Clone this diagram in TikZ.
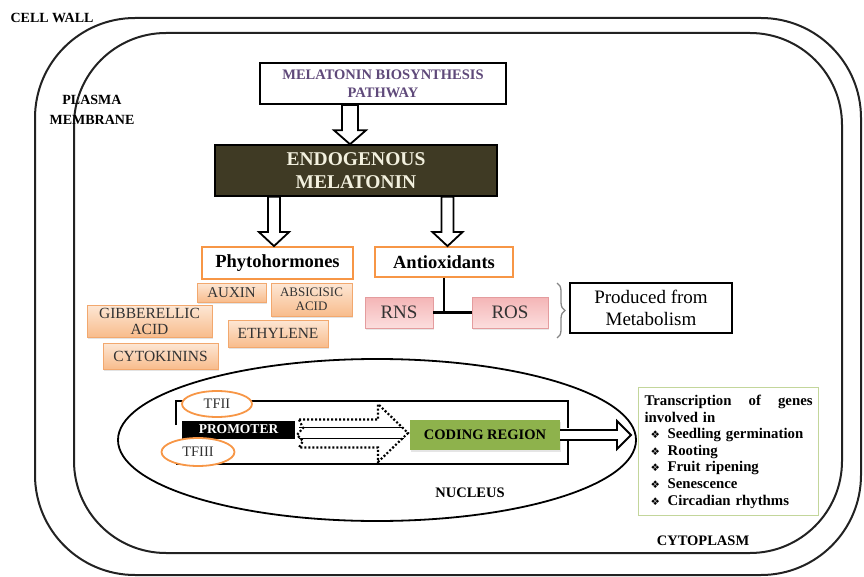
\documentclass[tikz,border=0pt]{standalone}
\usepackage{fontspec}
\setmainfont{Liberation Serif}
\newfontfamily\dejavu{DejaVu Sans}
\usetikzlibrary{calc,shadows,shapes.geometric,decorations.pathreplacing}

\definecolor{wallgray}{HTML}{222222}
\definecolor{pathpurple}{HTML}{5F497A}
\definecolor{endofill}{HTML}{3F3A24}
\definecolor{endotext}{HTML}{F2F0DE}
\definecolor{hormorange}{HTML}{F79646}
\definecolor{subtop}{HTML}{FDE7D5}
\definecolor{subbot}{HTML}{F8BC8C}
\definecolor{subline}{HTML}{F2A86E}
\definecolor{pinktop}{HTML}{F4B5B6}
\definecolor{pinkbot}{HTML}{FCDEDE}
\definecolor{pinkline}{HTML}{E49C9E}
\definecolor{codegreen}{HTML}{8EB24C}
\definecolor{translime}{HTML}{C3D69B}
\definecolor{bracegray}{HTML}{858585}
\definecolor{subtext}{HTML}{333333}

\tikzset{
  membrane/.style={draw=wallgray, line width=2pt},
  hollow/.style={draw=black, line width=1.8pt, fill=white, line join=miter},
  plainbox/.style={draw=black, line width=1.8pt, fill=white, inner sep=0pt, align=center},
  headbox/.style={draw=hormorange, line width=1.8pt, fill=white, inner sep=0pt,
    font=\fontsize{18.5}{20}\selectfont\bfseries},
  hormbox/.style={draw=subline, line width=0.8pt, top color=subtop, bottom color=subbot,
    inner sep=0pt, align=center, text=subtext,
    drop shadow={shadow xshift=1.2pt, shadow yshift=-1.5pt, fill=black!22}},
  radbox/.style={draw=pinkline, line width=0.8pt, top color=pinktop, bottom color=pinkbot,
    inner sep=0pt, text=subtext, font=\fontsize{19}{20}\selectfont,
    drop shadow={shadow xshift=1.2pt, shadow yshift=-1.5pt, fill=black!18}},
  label/.style={font=\fontsize{14}{20}\selectfont\bfseries, text=black, inner sep=0pt, align=center},
  tfoval/.style={draw=hormorange, line width=1.8pt, fill=white, ellipse, inner sep=0pt,
    text=subtext, font=\fontsize{14.5}{16}\selectfont},
  dotline/.style={draw=black, line width=2.2pt, dash pattern=on 2pt off 2pt},
  link/.style={draw=black, line width=2.6pt}
}

\begin{document}
\begin{tikzpicture}[x=1pt, y=-1pt]
\useasboundingbox (0,0) rectangle (864,577);

% cell wall and plasma membrane
\draw[membrane, rounded corners=100pt] (35,18) rectangle (861,575);
\draw[membrane, rounded corners=92pt] (74,33) rectangle (842,553);

% nucleus
\node[draw=black, line width=1.8pt, ellipse, minimum width=518pt, minimum height=162pt, inner sep=0pt] (nucleus) at (377,440) {};

% compartment labels
\node[label] (cellwall) at (52,18) {CELL WALL};
\node[label, font=\fontsize{14}{20}\selectfont\bfseries] (plasma) at (92,110) {PLASMA\\MEMBRANE};
\node[label, font=\fontsize{14.5}{20}\selectfont\bfseries] (nuclabel) at (470,493) {NUCLEUS};
\node[label, font=\fontsize{14.5}{20}\selectfont\bfseries] (cytolabel) at (703,541) {CYTOPLASM};

% biosynthesis and endogenous melatonin
\node[plainbox, minimum width=246pt, minimum height=41pt, text=pathpurple,
      font=\fontsize{14.5}{18}\selectfont\bfseries] (mbp) at (383,83.5)
      {MELATONIN BIOSYNTHESIS\\PATHWAY};
\node[draw=black, line width=1.5pt, fill=endofill, text=endotext, inner sep=0pt, align=center,
      minimum width=282pt, minimum height=51pt,
      font=\fontsize{19.5}{23}\selectfont\bfseries] (endo) at (356,170.5)
      {ENDOGENOUS\\MELATONIN};

% phytohormones and antioxidants
\node[headbox, minimum width=151pt, minimum height=32pt] (phyto) at (277.5,263) {Phytohormones};
\node[headbox, minimum width=138pt, minimum height=30pt] (antiox) at (444,262) {Antioxidants};

\node[hormbox, minimum width=69pt, minimum height=19pt, font=\fontsize{15}{16}\selectfont] (auxin) at (231.5,292.5) {AUXIN};
\node[hormbox, minimum width=81pt, minimum height=33pt, font=\fontsize{13}{14.5}\selectfont] (aba) at (311.5,299.5) {ABSICISIC\\ACID};
\node[hormbox, minimum width=125pt, minimum height=32pt, font=\fontsize{15.5}{16}\selectfont] (ga) at (149.5,321) {GIBBERELLIC\\ACID};
\node[hormbox, minimum width=100pt, minimum height=27pt, font=\fontsize{15.5}{16}\selectfont] (eth) at (278,333.5) {ETHYLENE};
\node[hormbox, minimum width=115pt, minimum height=26pt, font=\fontsize{15.5}{16}\selectfont] (ck) at (160.5,356) {CYTOKININS};

% reactive species
\node[radbox, minimum width=68pt, minimum height=31pt] (rns) at (399,312.5) {RNS};
\node[radbox, minimum width=76pt, minimum height=31pt] (ros) at (510,312.5) {ROS};
\draw[link] (antiox.south) -- (antiox.south |- rns.east);
\draw[link] (rns.east) -- (ros.west);

\node[plainbox, minimum width=162pt, minimum height=50pt, font=\fontsize{19}{22}\selectfont] (metab) at (651,308) {Produced from\\Metabolism};
\draw[draw=bracegray, line width=1.3pt, decorate, decoration={brace, amplitude=8pt}]
  (557,283) -- (557,338);

% hollow block arrows
\coordinate (a1) at (350,0);
\coordinate (a2) at (274,0);
\coordinate (a3) at (447.5,0);
\newcommand{\hollowdown}[4]{%
  \draw[hollow] let \p1=(#1), \p2=(#2) in
    (\x1-#3,\y1) -- (\x1-#3,\y2+14pt) -- (\x1-#4,\y2+14pt) -- (\x1,\y2)
    -- (\x1+#4,\y2+14pt) -- (\x1+#3,\y2+14pt) -- (\x1+#3,\y1) -- cycle;}
\hollowdown{mbp.south -| a1}{endo.north -| a1}{8pt}{16pt}
\hollowdown{endo.south -| a2}{phyto.north -| a2}{6pt}{15pt}
\hollowdown{endo.south -| a3}{antiox.north -| a3}{6pt}{15pt}

% gene region frame
\draw[black, line width=1.6pt] (176,425) -- (176,401) -- (568,401) -- (568,428);
\draw[black, line width=1.6pt] (568,438) -- (568,464) -- (176,464);

% dotted transcription arrow with its inner shaft
\coordinate (dstart) at (299,433);
\coordinate (dtip) at (408,433);
\draw[dotline] let \p1=(dstart), \p2=(dtip) in
  (\x1,\y1+13.5pt) -- (\x2-30pt,\y1+13.5pt) -- (\x2-30pt,\y1+29pt) -- (\x2,\y1)
  -- (\x2-30pt,\y1-29pt) -- (\x2-30pt,\y1-14.5pt) -- (\x1,\y1-14.5pt)
  -- (\x1+4pt,\y1-8pt) -- (\x1-2pt,\y1-2pt) -- (\x1+4pt,\y1+5pt) -- (\x1,\y1+13.5pt);
\draw[black, line width=1.4pt] let \p1=(dstart), \p2=(dtip) in
  (\x1,\y1+5.5pt) -- (\x2-4pt,\y1+5.5pt)
  (\x1,\y1-5.5pt) -- (\x2-4pt,\y1-5.5pt);

\node[fill=black, text=white, inner sep=0pt, minimum width=113pt, minimum height=18pt,
      font=\fontsize{13.5}{14}\selectfont\bfseries] (promoter) at (238.5,429.5) {PROMOTER};
\node[fill=codegreen, inner sep=0pt, minimum width=150pt, minimum height=30pt,
      font=\fontsize{14.5}{16}\selectfont\bfseries,
      drop shadow={shadow xshift=1.2pt, shadow yshift=-1.5pt, fill=black!20}] (coding) at (485,435) {CODING REGION};

\node[tfoval, minimum width=70pt, minimum height=26pt] (tfii) at (217,404) {TFII};
\node[tfoval, minimum width=73pt, minimum height=28pt] (tfiii) at (198,452) {TFIII};

% arrow out of the nucleus
\coordinate (outtip) at (631,435);
\draw[hollow] let \p1=(coding.east), \p2=(outtip) in
  (\x1,\y1+5pt) -- (\x2-14pt,\y1+5pt) -- (\x2-14pt,\y1+14pt) -- (\x2,\y1)
  -- (\x2-14pt,\y1-14pt) -- (\x2-14pt,\y1-5pt) -- (\x1,\y1-5pt);

% target processes
\newcommand{\genebullet}{\hspace*{6pt}\makebox[17pt][l]{\dejavu\fontsize{10.5}{10}\selectfont ❖}}
\node[draw=translime, line width=1.2pt, fill=white, anchor=north west, inner xsep=6pt, inner ysep=3pt,
      text width=168pt, minimum height=128pt, align=left,
      font=\fontsize{14.8}{16.6}\selectfont\bfseries] (genes) at (638,387)
  {Transcription\hfill of\hfill genes\\
   involved in\\
   \genebullet Seedling germination\\
   \genebullet Rooting\\
   \genebullet Fruit ripening\\
   \genebullet Senescence\\
   \genebullet Circadian rhythms};

\end{tikzpicture}
\end{document}
